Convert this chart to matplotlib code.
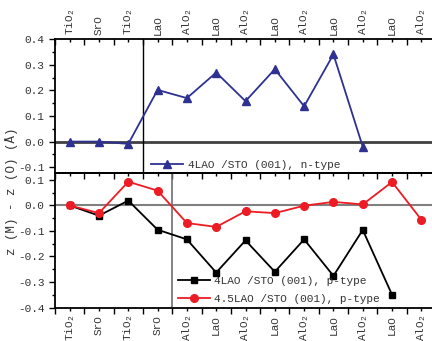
import matplotlib
matplotlib.use('Agg')
import matplotlib.pyplot as plt

plt.rcParams['font.family'] = ['Liberation Mono', 'DejaVu Sans']
plt.rcParams['mathtext.fontset'] = 'custom'
plt.rcParams['mathtext.rm'] = 'Liberation Mono'
plt.rcParams['mathtext.default'] = 'regular'

# layer labels
top_layers = ['TiO$_2$', 'SrO', 'TiO$_2$', 'LaO', 'AlO$_2$', 'LaO', 'AlO$_2$',
              'LaO', 'AlO$_2$', 'LaO', 'AlO$_2$', 'LaO', 'AlO$_2$']
bottom_layers = ['TiO$_2$', 'SrO', 'TiO$_2$', 'SrO', 'AlO$_2$', 'LaO', 'AlO$_2$',
                 'LaO', 'AlO$_2$', 'LaO', 'AlO$_2$', 'LaO', 'AlO$_2$']

# z(M) - z(O) values
n_type_4lao = [0.0, 0.0, -0.009, 0.202, 0.17, 0.27, 0.158, 0.283, 0.138, 0.341, -0.02]
p_type_4lao = [0.0, -0.04, 0.019, -0.095, -0.133, -0.263, -0.137, -0.26, -0.133, -0.276, -0.096, -0.35]
p_type_45lao = [0.0, -0.03, 0.093, 0.058, -0.069, -0.084, -0.023, -0.03, -0.001, 0.014, 0.004, 0.092, -0.056]

blue = '#2e3192'
red = '#ed1c24'
txt = '#333333'

fig = plt.figure(figsize=(4.32, 3.41), dpi=100)
ax1 = fig.add_axes([0.1273, 0.4918, 0.882, 0.393])
ax2 = fig.add_axes([0.1273, 0.0982, 0.882, 0.3936])

for ax in (ax1, ax2):
    ax.set_xlim(-0.5, 12.5)
    ax.set_xticks([i - 0.5 for i in range(14)])
    ax.set_xticks(range(13), minor=True)
    ax.set_xticklabels([])
    ax.tick_params(axis='y', which='major', direction='out', length=4, width=1, labelsize=8, labelcolor=txt)
    ax.tick_params(axis='y', which='minor', direction='out', length=2, width=1)
    ax.set_yticks([i * 0.05 - 0.4 for i in range(17)], minor=True)
    for s in ax.spines.values():
        s.set_linewidth(1.3)
    ax.spines['right'].set_visible(False)

# top panel: n-type
ax1.set_ylim(-0.124, 0.4)
ax1.set_yticks([-0.1, 0.0, 0.1, 0.2, 0.3, 0.4])
ax1.set_yticklabels(['-0.1', '0.0', '0.1', '0.2', '0.3', '0.4'])
ax1.xaxis.tick_top()
ax1.tick_params(axis='x', which='major', direction='in', length=4, width=1, top=True, bottom=False)
ax1.tick_params(axis='x', which='minor', direction='in', length=2, width=1, top=True, bottom=False)
ax1.set_xticks(range(13), minor=True)
ax1.set_xticklabels(top_layers, minor=True, rotation=90, fontsize=8, color=txt)
ax1.axhline(0, color='#404040', lw=2, zorder=1)
ax1.axvline(2.5, color='black', lw=1, zorder=1)
ax1.plot(range(len(n_type_4lao)), n_type_4lao, color=blue, marker='^', ms=5.5, lw=1.3,
         label='4LAO /STO (001), n-type', zorder=3)
ax1.legend(loc='center left', bbox_to_anchor=(0.24, 0.06), frameon=False, fontsize=8,
           handlelength=2.9, handletextpad=0.4, labelcolor=txt, borderaxespad=0)

# bottom panel: p-type
ax2.set_ylim(-0.4, 0.126)
ax2.set_yticks([-0.4, -0.3, -0.2, -0.1, 0.0, 0.1])
ax2.set_yticklabels(['-0.4', '-0.3', '-0.2', '-0.1', '0.0', '0.1'])
ax2.tick_params(axis='x', which='major', direction='out', length=4, width=1, top=False, bottom=True)
ax2.tick_params(axis='x', which='minor', direction='out', length=2, width=1, top=False, bottom=True)
ax2.set_xticklabels(bottom_layers, minor=True, rotation=90, fontsize=8, color=txt)
# inward ticks along the top edge of the lower panel
ax2t = ax2.secondary_xaxis('top')
ax2t.set_xticks([i - 0.5 for i in range(14)])
ax2t.set_xticks(range(13), minor=True)
ax2t.tick_params(which='major', direction='in', length=4, width=1, labeltop=False)
ax2t.tick_params(which='minor', direction='in', length=2, width=1, labeltop=False)
ax2t.spines['top'].set_linewidth(1.3)
ax2.axhline(0, color='#808080', lw=1.5, zorder=1)
ax2.axvline(3.5, color='#707070', lw=1.2, zorder=1)
ax2.plot(range(len(p_type_4lao)), p_type_4lao, color='black', marker='s', ms=5, lw=1.3,
         label='4LAO /STO (001), p-type', zorder=3)
ax2.plot(range(len(p_type_45lao)), p_type_45lao, color=red, marker='o', ms=5.5, lw=1.3,
         label='4.5LAO /STO (001), p-type', zorder=3)
ax2.legend(loc='lower left', bbox_to_anchor=(0.31, -0.005), frameon=False, fontsize=8,
           handlelength=2.9, handletextpad=0.4, labelcolor=txt, borderaxespad=0,
           labelspacing=0.7)

fig.text(0.027, 0.44, 'z (M) - z (O) (Å)', rotation=90, ha='center', va='center',
         fontsize=9, color=txt)

fig.savefig('out.png', dpi=100)
